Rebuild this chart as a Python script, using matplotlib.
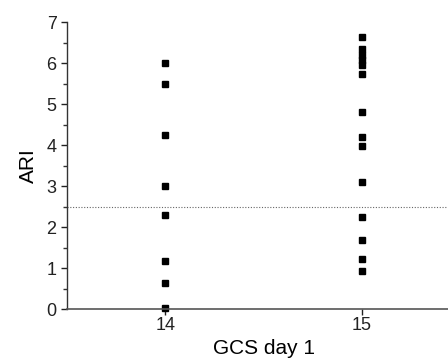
import matplotlib.pyplot as plt
from matplotlib.ticker import MultipleLocator

plt.rcParams["font.family"] = ["Liberation Sans", "DejaVu Sans"]

# ARI values, grouped by GCS on day 1
GCS_14 = [6.0, 5.48, 4.24, 3.0, 2.29, 1.17, 0.63, 0.02]
GCS_15 = [6.64, 6.33, 6.2, 6.08, 5.96, 5.73, 4.81, 4.2, 3.98, 3.1, 2.25, 1.68, 1.22, 0.92]
CUTOFF = 2.5

fig = plt.figure(figsize=(4.48, 3.62), dpi=100)
ax = fig.add_axes([0.1496, 0.1464, 0.878, 0.7928])

ax.plot([14] * len(GCS_14), GCS_14, "s", color="black", ms=4.3, clip_on=False)
ax.plot([15] * len(GCS_15), GCS_15, "s", color="black", ms=4.3, clip_on=False)
ax.axhline(CUTOFF, color="#666666", lw=0.8, ls=(0, (1, 1.5)))

ax.set_xlim(13.5, 15.5)
ax.set_ylim(0, 7)
ax.set_xticks([14, 15])
ax.yaxis.set_major_locator(MultipleLocator(1))
ax.yaxis.set_minor_locator(MultipleLocator(0.5))

for s in ("top", "right"):
    ax.spines[s].set_visible(False)
ax.spines["left"].set_color("#333333")
ax.spines["bottom"].set_color("#555555")
ax.spines["left"].set_linewidth(1.0)
ax.spines["bottom"].set_linewidth(1.2)

ax.tick_params(axis="both", which="major", length=4, width=1, labelsize=13, colors="#222222")
ax.tick_params(axis="x", pad=2)
ax.tick_params(axis="y", which="minor", length=3, width=1, colors="#333333")

ax.set_xlabel("GCS day 1", fontsize=15, labelpad=3)
ax.set_ylabel("ARI", fontsize=15, labelpad=6)

fig.savefig("out.png", dpi=100)
